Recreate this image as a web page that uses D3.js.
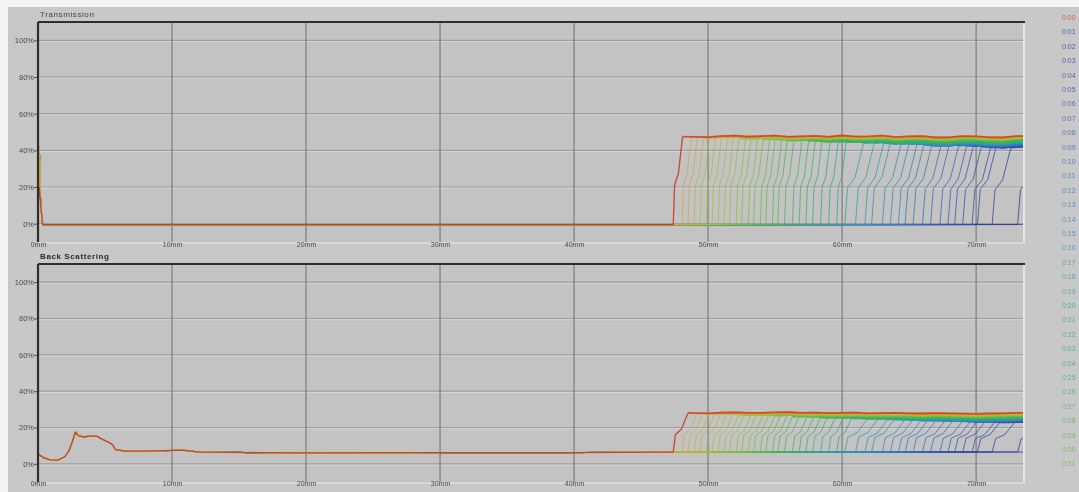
<!DOCTYPE html>
<html><head><meta charset="utf-8">
<script src="https://cdn.jsdelivr.net/npm/d3@7"></script>
<style>html,body{margin:0;padding:0;background:#fff;}svg{display:block;filter:blur(0.4px);}</style>
</head><body>
<script>
// ---------- DATA ----------
const heightTicks = [0, 10, 20, 30, 40, 50, 60, 70];
const heightTickLabels = ["0mm", "10mm", "20mm", "30mm", "40mm", "50mm", "60mm", "70mm"];
const pctTicks = [0, 20, 40, 60, 80, 100];
const pctTickLabels = ["0%", "20%", "40%", "60%", "80%", "100%"];
// legend entries visible in the picture
const scanLabels = ["0:00","0:01","0:02","0:03","0:04","0:05","0:06","0:07","0:08","0:09",
  "0:10","0:11","0:12","0:13","0:14","0:15","0:16","0:17","0:18","0:19",
  "0:20","0:21","0:22","0:23","0:24","0:25","0:26","0:27","0:28","0:29",
  "0:30","0:31"];
// clarification front position (mm) per scan
const frontMM = [47.4, 76, 73.1, 71.2, 70.1, 69.7, 69.0, 68.4, 67.9, 67.3,
  66.6, 66.0, 65.3, 64.7, 64.2, 63.6, 63.0, 62.2, 61.7, 61.0,
  60.2, 59.6, 59.0, 58.4, 57.8, 57.3, 56.8, 56.3, 55.7, 55.2,
  54.8, 54.3, 53.9, 53.4, 53.0, 52.5, 52.1, 51.6, 51.2, 50.75,
  50.3, 49.85, 49.4, 48.96, 48.5, 48.06];
// transmission plateau (%) above the front per scan
const tPlateau = [47.5, 41, 41.5, 41.5, 42, 42, 42, 42.5, 42.5, 42.5,
  43, 43, 43, 43, 43.5, 43.5, 43.5, 44, 44, 44,
  44, 44.5, 44.5, 44.5, 45, 45, 45, 45.5, 45.5, 45.5,
  46, 46, 46, 46, 46.5, 46.5, 46.5, 46.5, 47, 47,
  47, 47, 47, 47, 47.5, 47.5];
// back scattering plateau (%) above the front per scan
const bsPlateau = [28, 22.5, 22.5, 23, 23, 23, 23.5, 23.5, 23.5, 23.5,
  24, 24, 24, 24, 24, 24.5, 24.5, 24.5, 24.5, 25,
  25, 25, 25.5, 25.5, 25.5, 25.5, 26, 26, 26, 26,
  26.5, 26.5, 26.5, 26.5, 27, 27, 27, 27, 27, 27.5,
  27.5, 27.5, 27.5, 27.5, 28, 28];
// transmission profile below the front [mm, %]
const tBase = [[0, 10], [0.1, 42], [0.2, 10], [0.35, -0.5], [73.5, -0.5]];
// back scattering profile below the front [mm, %]
const bsBase = [[0, 5.5], [0.4, 3.5], [0.9, 2.2], [1.5, 2], [2.0, 4], [2.3, 7], [2.6, 13], [2.8, 17.5],
  [3.0, 15.5], [3.4, 14.8], [3.9, 15.3], [4.4, 15.2], [4.8, 13.5], [5.2, 12], [5.5, 11], [5.8, 7.8],
  [6.5, 7], [8, 7], [10.8, 7.5], [12.1, 6.4], [20, 6], [30, 6.2], [40, 6.2], [47, 6.5], [73.5, 6.5]];
// small irregularities read along the plateau [mm, % offset]
const tWobble = [[48, 0.4], [49, -0.2], [50, -0.3], [51, 0.3], [52, 0.5], [53, -0.1], [54, 0.2], [55, 0.5], [56, -0.2],
  [57, 0.1], [58, 0.4], [59, -0.2], [60, 0.6], [61, 0.0], [62, 0.1], [63, 0.5], [64, -0.3], [65, 0.1], [66, 0.2],
  [67, -0.5], [68, -0.4], [69, 0.3], [70, 0.1], [71, -0.4], [72, -0.5], [73, 0.2], [73.5, 0.3]];
const bsWobble = [[48, 0.2], [49, -0.1], [50, -0.2], [51, 0.2], [52, 0.3], [53, 0.0], [54, 0.1], [55, 0.3], [56, 0.4],
  [57, 0.1], [58, 0.2], [59, -0.1], [60, 0.1], [61, 0.2], [62, -0.2], [63, -0.1], [64, 0.0], [65, -0.2], [66, -0.3],
  [67, -0.1], [68, -0.2], [69, -0.4], [70, -0.5], [71, -0.3], [72, -0.2], [73, 0.0], [73.5, 0.1]];

// ---------- LAYOUT / STYLE ----------
const W = 1079, H = 492;
const X0 = 38, X1 = 1023;
const panels = [
  {title: "Transmission", top: 22, bottom: 242, base: tBase, plateau: tPlateau, wobble: tWobble, slant: 0.7, slantRight: 1.4, spikeRed: 20},
  {title: "Back Scattering", top: 264, bottom: 482, base: bsBase, plateau: bsPlateau, wobble: bsWobble, slant: 1.1, slantRight: 1.7}
];
const colorStops = ["#24358f", "#3457bd", "#3a7cc4", "#2aa3a6", "#36b35a", "#6cbd3a", "#a7c23a", "#d2a83c"];
const colorOf = i => i === 0 ? "#d23a2c" : d3.interpolateRgbBasis(colorStops)((i - 1) / (frontMM.length - 2));

const svg = d3.select("body").append("svg").attr("width", W).attr("height", H)
  .style("font-family", "'Liberation Sans', Arial, sans-serif");
svg.append("rect").attr("width", W).attr("height", H).attr("fill", "#c8c8c8");
svg.append("rect").attr("width", W).attr("height", 7).attr("fill", "#f4f4f4");
svg.append("rect").attr("width", 8).attr("height", H).attr("fill", "#f4f4f4");

const x = d3.scaleLinear().domain([0, 73.5]).range([X0, X1]);

panels.forEach((p, pi) => {
  const y = d3.scaleLinear().domain([-10, 110]).range([p.bottom, p.top]);
  const g = svg.append("g");
  g.append("rect").attr("x", X0).attr("y", p.top).attr("width", X1 - X0).attr("height", p.bottom - p.top).attr("fill", "#c3c3c3");
  g.append("line").attr("x1", X1 + 1).attr("x2", X1 + 1).attr("y1", p.top).attr("y2", p.bottom).attr("stroke", "#e6e6e6").attr("stroke-width", 2);
  g.append("line").attr("x1", X0).attr("x2", X1 + 2).attr("y1", p.bottom + 1).attr("y2", p.bottom + 1).attr("stroke", "#dedede").attr("stroke-width", 1.5);

  pctTicks.forEach(v => {
    g.append("line").attr("x1", X0).attr("x2", X1).attr("y1", y(v)).attr("y2", y(v)).attr("stroke", "#9e9e9e").attr("stroke-width", 1.2);
    g.append("line").attr("x1", X0).attr("x2", X1).attr("y1", y(v) + 1.3).attr("y2", y(v) + 1.3).attr("stroke", "#dadada").attr("stroke-width", 0.8);
  });
  heightTicks.slice(1).forEach(v => {
    g.append("line").attr("x1", x(v)).attr("x2", x(v)).attr("y1", p.top).attr("y2", p.bottom).attr("stroke", "#6e6e6e").attr("stroke-width", 1);
  });

  const yAxis = d3.axisLeft(y).tickValues(pctTicks).tickFormat((d, i) => pctTickLabels[i]).tickSize(3);
  const ya = g.append("g").attr("transform", `translate(${X0 - 1},0)`).call(yAxis);
  ya.select(".domain").remove();
  ya.selectAll("line").attr("stroke", "#555");
  ya.selectAll("text").attr("font-size", 7.5).attr("fill", "#4a4a4a").attr("x", -3);
  const xAxis = d3.axisBottom(x).tickValues(heightTicks).tickFormat((d, i) => heightTickLabels[i]).tickSize(0);
  const xa = g.append("g").attr("transform", `translate(0,${p.bottom})`).call(xAxis);
  xa.select(".domain").remove();
  xa.selectAll("text").attr("font-size", 7).attr("fill", "#4a4a4a").attr("dy", pi === 0 ? "0.25em" : "0.1em");

  const clipId = "clip" + pi;
  svg.append("clipPath").attr("id", clipId).append("rect").attr("x", X0).attr("y", p.top).attr("width", X1 - X0).attr("height", p.bottom - p.top);
  const cg = g.append("g").attr("clip-path", `url(#${clipId})`);
  const line = d3.line().x(d => x(d[0])).y(d => y(d[1]));
  const order = d3.range(1, frontMM.length).concat([0]);
  order.forEach(i => {
    const f = frontMM[i];
    const lvlAt = mm => {
      const j = p.base.findIndex(d => d[0] >= mm);
      const k = j < 1 ? p.base.length - 1 : j;
      const b = p.base[k], a = p.base[k - 1];
      return a[1] + (b[1] - a[1]) * (mm - a[0]) / (b[0] - a[0]);
    };
    let pts = p.base.filter(d => d[0] < f);
    if (i === 0 && p.spikeRed !== undefined) pts = pts.map((d, j) => j === 1 ? [d[0], p.spikeRed] : d);
    const b0 = lvlAt(f);
    const pl = p.plateau[i];
    const s = f > 60 ? p.slantRight : p.slant;
    pts.push([f, b0]);
    pts.push([f + 0.15 * s, b0 + 0.45 * (pl - b0)]);
    pts.push([f + 0.55 * s, b0 + 0.58 * (pl - b0)]);
    pts.push([f + s, pl]);
    const plat = [[f + s, pl]].concat(p.wobble.filter(d => d[0] > f + s).map(d => [d[0], pl + d[1]]));
    cg.append("path").attr("d", line(pts)).attr("fill", "none")
      .attr("stroke", colorOf(i)).attr("stroke-width", i === 0 ? 1.3 : 0.9)
      .attr("stroke-opacity", i === 0 ? 0.95 : 0.85);
    cg.append("path").attr("d", line(plat)).attr("fill", "none")
      .attr("stroke", colorOf(i)).attr("stroke-width", 1.8).attr("stroke-opacity", 0.85);
  });

  g.append("line").attr("x1", X0).attr("x2", X1 + 2).attr("y1", p.top).attr("y2", p.top).attr("stroke", "#2e2e2e").attr("stroke-width", 2);
  g.append("line").attr("x1", X0).attr("x2", X0).attr("y1", p.top).attr("y2", p.bottom).attr("stroke", "#2e2e2e").attr("stroke-width", 2.2);

  g.append("text").attr("x", X0 + 2).attr("y", p.top - 5).attr("font-size", 8).attr("fill", pi === 0 ? "#444" : "#2a2a2a")
    .attr("font-weight", pi === 0 ? "normal" : "bold").attr("letter-spacing", 0.6).text(p.title);
});

// legend
const lg = svg.append("g");
scanLabels.forEach((t, i) => {
  lg.append("text").attr("x", 1062).attr("y", 20 + i * 14.4).attr("font-size", 7).attr("fill", colorOf(i)).attr("fill-opacity", 0.75).text(t);
});
</script>
</body></html>
